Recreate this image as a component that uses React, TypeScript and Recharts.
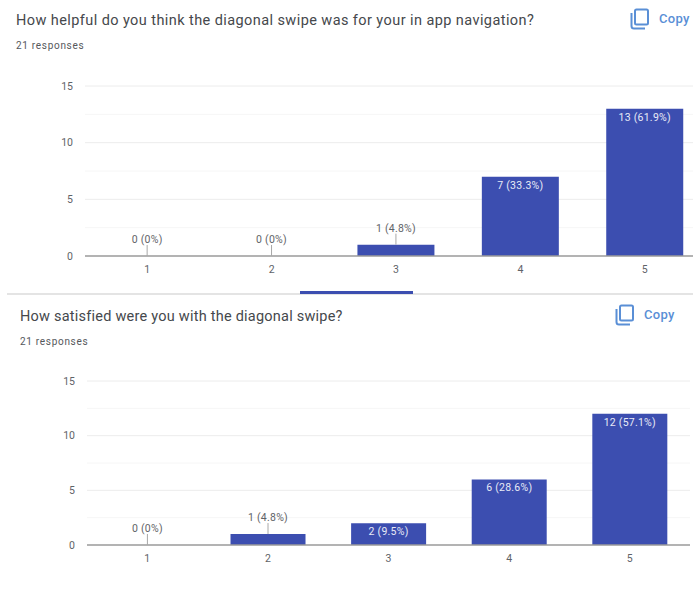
import React from "react";
import { BarChart, Bar, XAxis, YAxis, CartesianGrid, LabelList } from "recharts";

const ratings = ["1", "2", "3", "4", "5"];
const helpfulCounts = [0, 0, 1, 7, 13];
const helpfulShares = ["0%", "0%", "4.8%", "33.3%", "61.9%"];
const satisfiedCounts = [0, 1, 2, 6, 12];
const satisfiedShares = ["0%", "4.8%", "9.5%", "28.6%", "57.1%"];
const countTicks = [0, 5, 10, 15];
const minorLevels = [2.5, 7.5, 12.5];
const majorLevels = [5, 10, 15];

const BAR_BLUE = "#3c4eb0";
const TEXT_GREY = "#5f6368";
const LINK_BLUE = "#5a8fd6";
const FONT = "Roboto, sans-serif";

const buildRows = (counts: number[], shares: string[]) =>
  ratings.map((rating, i) => ({ rating, count: counts[i], label: `${counts[i]} (${shares[i]})` }));

// Tall bars carry their label inside the top edge; short ones get a leader line above.
function BarLabel(props: any) {
  const box = props.viewBox ?? props;
  const { x, y, width, height } = box;
  const cx = x + width / 2;
  const inside = height >= 20;
  if (inside) {
    return (
      <text x={cx} y={y + 12} textAnchor="middle" fontSize={10.5} letterSpacing={0.25} fontFamily={FONT} fill="#e8eaf6">
        {props.value}
      </text>
    );
  }
  return (
    <g>
      <line x1={cx} x2={cx} y1={y - 11} y2={y} stroke="#a8a8a8" strokeWidth={1} />
      <text x={cx} y={y - 13} textAnchor="middle" fontSize={10.5} letterSpacing={0.25} fontFamily={FONT} fill={TEXT_GREY}>
        {props.value}
      </text>
    </g>
  );
}

function CopyButton({ left, top }: { left: number; top: number }) {
  return (
    <div style={{ position: "absolute", left, top, height: 22, whiteSpace: "nowrap" }}>
      <svg width={20} height={22} style={{ position: "absolute", left: 0, top: 0 }}>
        <rect x={5} y={1.5} width={13} height={15} rx={1.5} fill="none" stroke={LINK_BLUE} strokeWidth={2} />
        <path d="M1.5 5 V18 Q1.5 20.5 4 20.5 H15" fill="none" stroke={LINK_BLUE} strokeWidth={2} />
      </svg>
      <span
        style={{
          position: "absolute",
          left: 29,
          top: 3,
          fontFamily: FONT,
          fontSize: 13,
          fontWeight: 500,
          letterSpacing: 0.3,
          color: LINK_BLUE,
        }}
      >
        Copy
      </span>
    </div>
  );
}

function Heading({ left, top, title, titleSpacing }: { left: number; top: number; title: string; titleSpacing: number }) {
  return (
    <>
      <div
        style={{
          position: "absolute",
          left,
          top,
          fontFamily: FONT,
          fontSize: 14.5,
          letterSpacing: titleSpacing,
          color: "#45484c",
          whiteSpace: "nowrap",
        }}
      >
        {title}
      </div>
      <div
        style={{
          position: "absolute",
          left,
          top: top + 28,
          fontFamily: FONT,
          fontSize: 10,
          letterSpacing: 0.7,
          color: "#55585c",
          whiteSpace: "nowrap",
        }}
      >
        21 responses
      </div>
    </>
  );
}

function ResponseChart({
  rows,
  top,
  width,
  height,
  axisWidth,
}: {
  rows: ReturnType<typeof buildRows>;
  top: number;
  width: number;
  height: number;
  axisWidth: number;
}) {
  return (
    <div style={{ position: "absolute", left: 0, top }}>
      <BarChart
        width={width}
        height={height}
        data={rows}
        margin={{ top: 86, right: 0, bottom: 0, left: 0 }}
        barCategoryGap="19%"
      >
        <CartesianGrid vertical={false} horizontalValues={minorLevels} stroke="#f6f6f6" />
        <CartesianGrid vertical={false} horizontalValues={majorLevels} stroke="#ececec" />
        <XAxis
          dataKey="rating"
          height={30}
          axisLine={{ stroke: "#9a9a9a", strokeWidth: 1.5 }}
          tickLine={false}
          tickMargin={4}
          tick={{ fontSize: 10.5, fontFamily: FONT, fill: TEXT_GREY }}
        />
        <YAxis
          width={axisWidth}
          domain={[0, 15]}
          ticks={countTicks}
          axisLine={false}
          tickLine={false}
          tickMargin={6}
          tick={{ fontSize: 10.5, fontFamily: FONT, fill: TEXT_GREY }}
        />
        <Bar dataKey="count" fill={BAR_BLUE} minPointSize={0.01} isAnimationActive={false}>
          <LabelList dataKey="label" content={<BarLabel />} />
        </Bar>
      </BarChart>
    </div>
  );
}

export default function App() {
  return (
    <div
      style={{
        position: "absolute",
        left: 0,
        top: 0,
        width: 693,
        height: 593,
        overflow: "hidden",
        background: "#ffffff",
      }}
    >
      <Heading left={16} top={12} title="How helpful do you think the diagonal swipe was for your in app navigation?" titleSpacing={0.42} />
      <CopyButton left={630} top={8} />
      <ResponseChart rows={buildRows(helpfulCounts, helpfulShares)} top={0} width={707} height={286} axisWidth={85} />

      {/* Tab divider between the two question cards */}
      <div style={{ position: "absolute", left: 7, top: 293, width: 686, height: 2, background: "#e4e4e4" }} />
      <div style={{ position: "absolute", left: 300, top: 291, width: 113, height: 3, background: BAR_BLUE }} />

      <Heading left={20} top={308} title="How satisfied were you with the diagonal swipe?" titleSpacing={0.23} />
      <CopyButton left={615} top={304} />
      <ResponseChart rows={buildRows(satisfiedCounts, satisfiedShares)} top={295} width={690} height={280} axisWidth={87} />
    </div>
  );
}
